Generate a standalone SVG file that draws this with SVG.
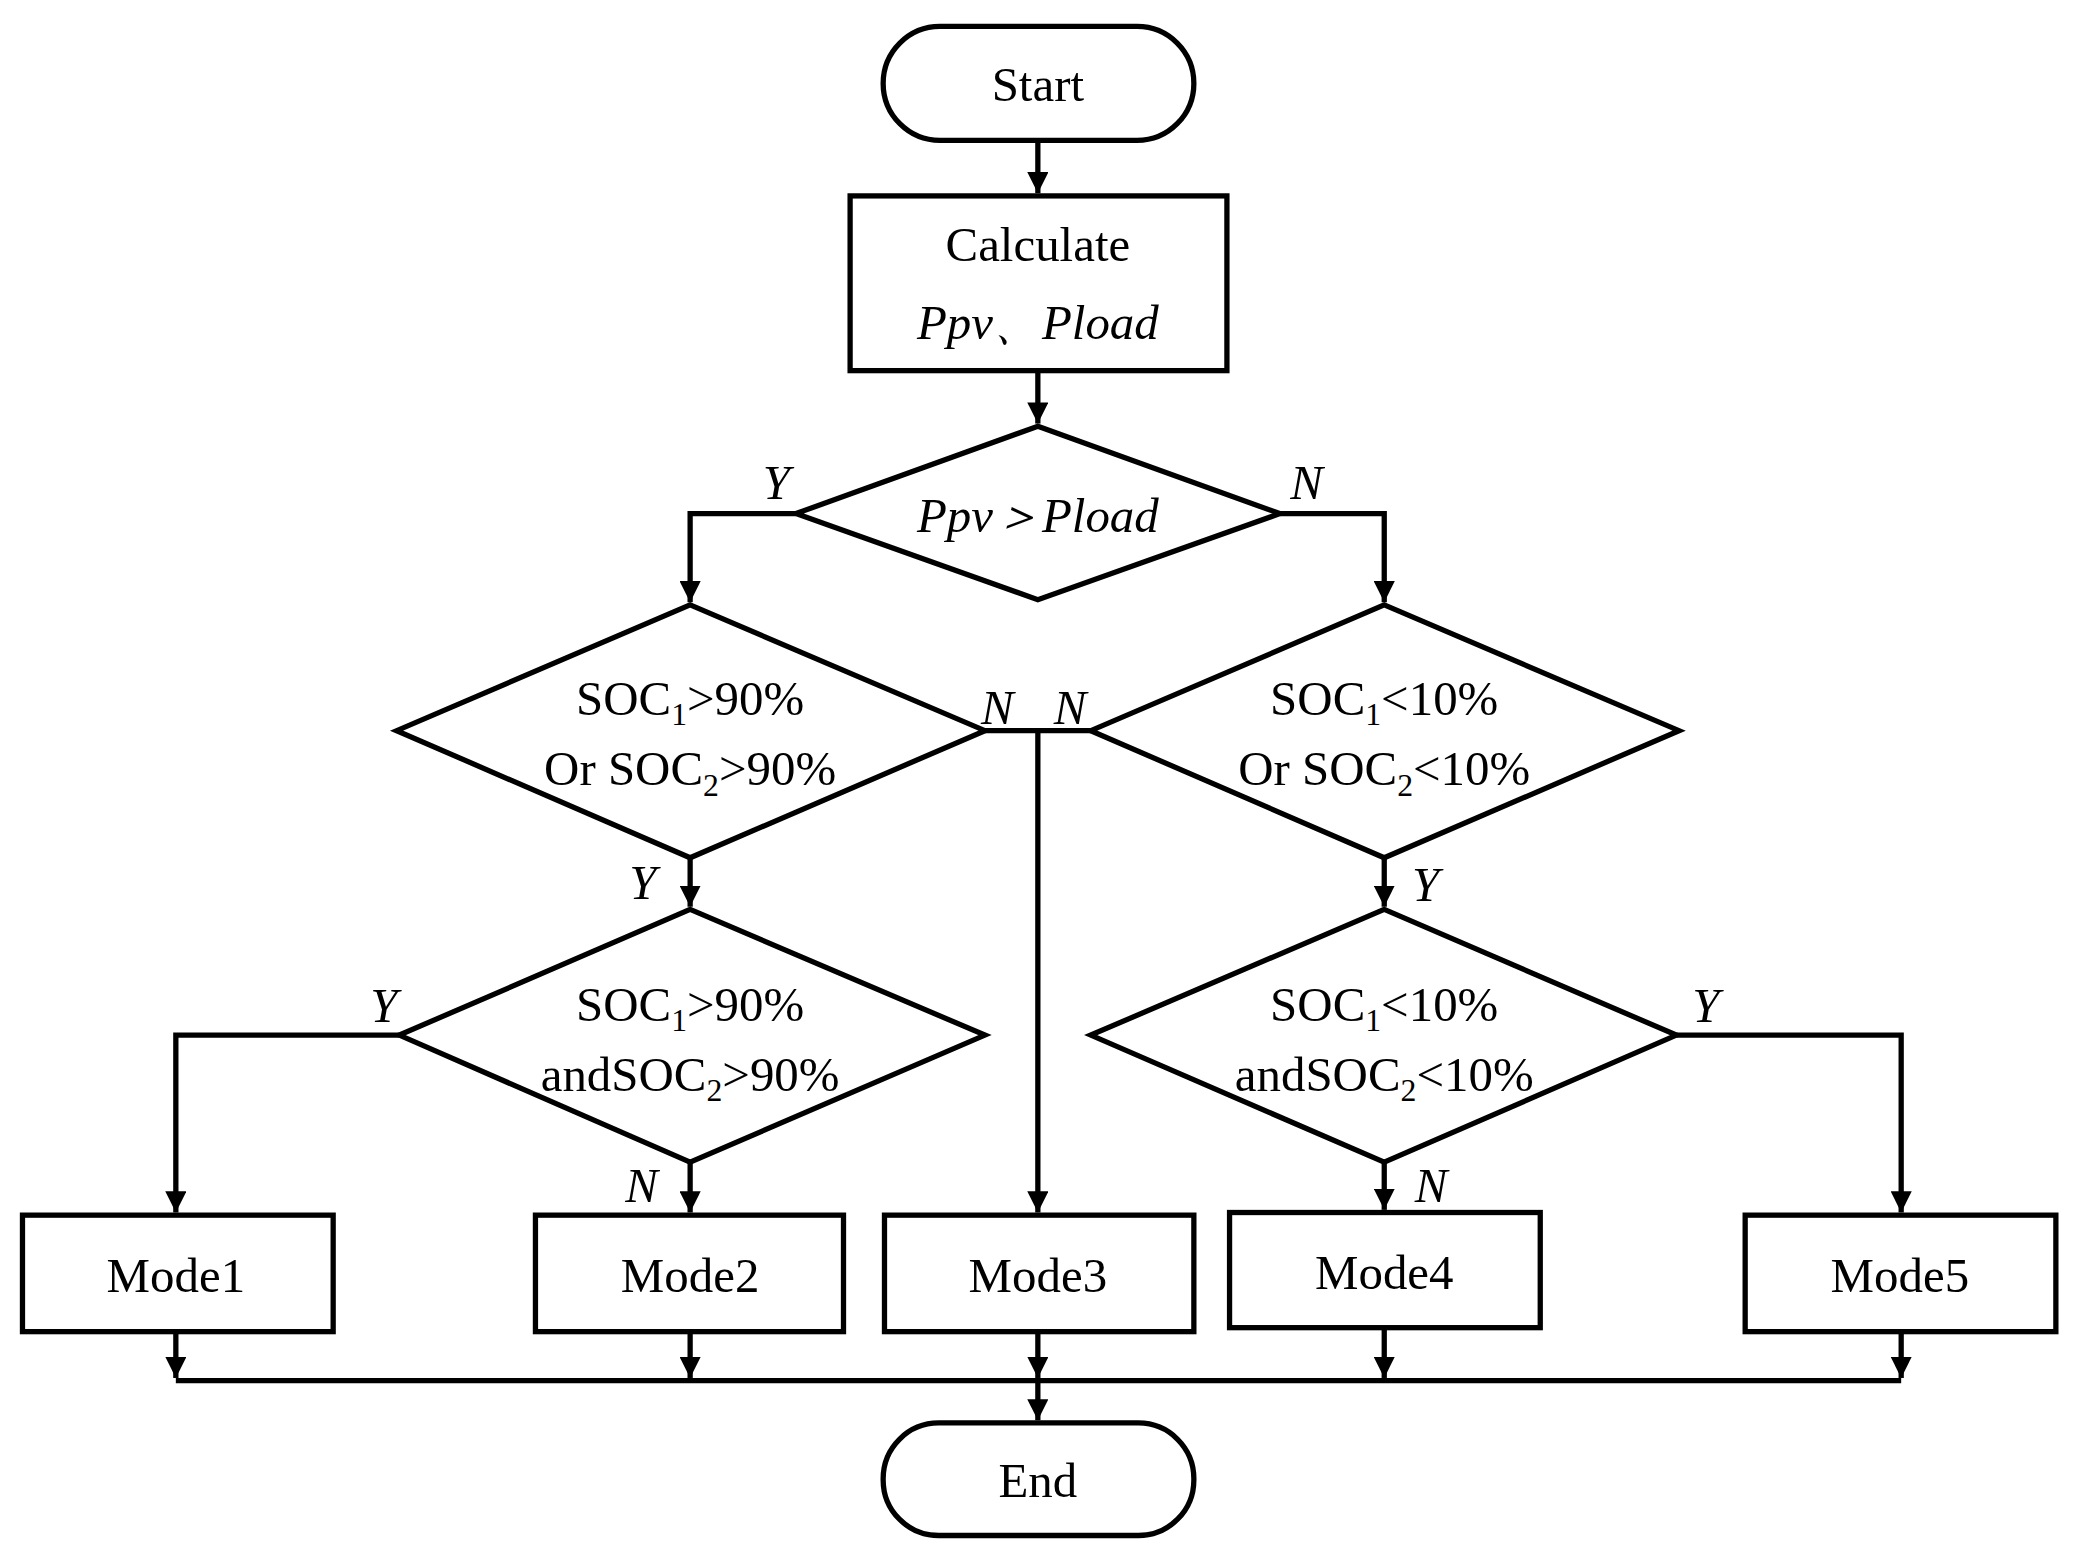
<svg xmlns="http://www.w3.org/2000/svg" width="2073" height="1554" viewBox="0 0 2073 1554">
<defs>
<marker id="ah" viewBox="0 0 10 10" refX="10" refY="5" markerWidth="4" markerHeight="4" markerUnits="strokeWidth" orient="auto"><path d="M0,0 L10,5 L0,10 z" fill="#000"/></marker>
<style>
.s{fill:#fff;stroke:#000;stroke-width:4}
.c{fill:none;stroke:#000;stroke-width:4}
.t{font-family:"Liberation Serif",serif;font-size:37px;text-anchor:middle;fill:#000}
.i{font-style:italic}
.l{font-family:"Liberation Serif",serif;font-size:37px;font-style:italic;fill:#000}
</style>
</defs>
<rect width="2073" height="1554" fill="#fff"/>
<g transform="scale(1.3221,1.3237)">
<g id="connectors">
<path class="c" d="M785,106 V146" marker-end="url(#ah)"/>
<path class="c" d="M785,280 V320" marker-end="url(#ah)"/>
<path class="c" d="M602,388 H522 V455" marker-end="url(#ah)"/>
<path class="c" d="M968,388 H1047 V455" marker-end="url(#ah)"/>
<path class="c" d="M745,552 H825"/>
<path class="c" d="M785,552 V916" marker-end="url(#ah)"/>
<path class="c" d="M522,648 V685" marker-end="url(#ah)"/>
<path class="c" d="M1047,648 V685" marker-end="url(#ah)"/>
<path class="c" d="M302,782 H133 V916" marker-end="url(#ah)"/>
<path class="c" d="M522,878 V916" marker-end="url(#ah)"/>
<path class="c" d="M1268,782 H1438 V916" marker-end="url(#ah)"/>
<path class="c" d="M1047,878 V914" marker-end="url(#ah)"/>
<path class="c" d="M133,1006 V1041" marker-end="url(#ah)"/>
<path class="c" d="M522,1006 V1041" marker-end="url(#ah)"/>
<path class="c" d="M785,1006 V1041" marker-end="url(#ah)"/>
<path class="c" d="M1047,1003 V1041" marker-end="url(#ah)"/>
<path class="c" d="M1438,1006 V1041" marker-end="url(#ah)"/>
<path class="c" d="M133,1043 H1438"/>
<path class="c" d="M785,1043 V1073" marker-end="url(#ah)"/>
<text class="l" x="577" y="377">Y</text>
<text class="l" x="976" y="377">N</text>
<text class="l" x="742" y="547">N</text>
<text class="l" x="797" y="547">N</text>
<text class="l" x="476" y="679">Y</text>
<text class="l" x="1068" y="681">Y</text>
<text class="l" x="280" y="772">Y</text>
<text class="l" x="1280" y="772">Y</text>
<text class="l" x="473" y="908">N</text>
<text class="l" x="1070" y="908">N</text>
</g>
<g id="start"><rect class="s" x="668" y="20" width="235" height="86" rx="43"/><text class="t" x="785" y="76">Start</text></g>
<g id="calc"><rect class="s" x="643" y="148" width="285" height="132"/><text class="t" x="785" y="197">Calculate</text><text class="t i" x="785" y="256">Ppv、Pload</text></g>
<g id="d1"><polygon class="s" points="785,322 968,388 785,453 602,388"/><text class="t i" x="785" y="402">Ppv＞Pload</text></g>
<g id="d2"><polygon class="s" points="522,457 745,552 522,648 300,552"/><text class="t" x="522" y="540">SOC<tspan font-size="24" dy="8">1</tspan><tspan dy="-8">&gt;90%</tspan></text><text class="t" x="522" y="593">Or SOC<tspan font-size="24" dy="8">2</tspan><tspan dy="-8">&gt;90%</tspan></text></g>
<g id="d3"><polygon class="s" points="1047,457 1270,552 1047,648 825,552"/><text class="t" x="1047" y="540">SOC<tspan font-size="24" dy="8">1</tspan><tspan dy="-8">&lt;10%</tspan></text><text class="t" x="1047" y="593">Or SOC<tspan font-size="24" dy="8">2</tspan><tspan dy="-8">&lt;10%</tspan></text></g>
<g id="d4"><polygon class="s" points="522,687 745,782 522,878 302,782"/><text class="t" x="522" y="771">SOC<tspan font-size="24" dy="8">1</tspan><tspan dy="-8">&gt;90%</tspan></text><text class="t" x="522" y="824">andSOC<tspan font-size="24" dy="8">2</tspan><tspan dy="-8">&gt;90%</tspan></text></g>
<g id="d5"><polygon class="s" points="1047,687 1268,782 1047,878 825,782"/><text class="t" x="1047" y="771">SOC<tspan font-size="24" dy="8">1</tspan><tspan dy="-8">&lt;10%</tspan></text><text class="t" x="1047" y="824">andSOC<tspan font-size="24" dy="8">2</tspan><tspan dy="-8">&lt;10%</tspan></text></g>
<g id="m1"><rect class="s" x="17" y="918" width="235" height="88"/><text class="t" x="133" y="976">Mode1</text></g>
<g id="m2"><rect class="s" x="405" y="918" width="233" height="88"/><text class="t" x="522" y="976">Mode2</text></g>
<g id="m3"><rect class="s" x="669" y="918" width="234" height="88"/><text class="t" x="785" y="976">Mode3</text></g>
<g id="m4"><rect class="s" x="930" y="916" width="235" height="87"/><text class="t" x="1047" y="974">Mode4</text></g>
<g id="m5"><rect class="s" x="1320" y="918" width="235" height="88"/><text class="t" x="1437" y="976">Mode5</text></g>
<g id="end"><rect class="s" x="668" y="1075" width="235" height="85" rx="42"/><text class="t" x="785" y="1131">End</text></g>
</g>
</svg>
